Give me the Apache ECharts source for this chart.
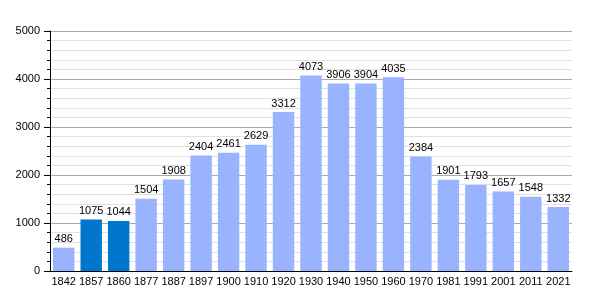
<!DOCTYPE html>
<html>
<head>
<meta charset="utf-8">
<script src="https://cdn.jsdelivr.net/npm/echarts@6/dist/echarts.min.js"></script>
<style>
  html, body { margin: 0; padding: 0; background: #fff; }
  #chart { width: 600px; height: 300px; }
</style>
</head>
<body>
<div id="chart"></div>
<script>
// population by census year
var years = ['1842', '1857', '1860', '1877', '1887', '1897', '1900', '1910', '1920', '1930',
  '1940', '1950', '1960', '1970', '1981', '1991', '2001', '2011', '2021']
var population = [486, 1075, 1044, 1504, 1908, 2404, 2461, 2629, 3312, 4073,
  3906, 3904, 4035, 2384, 1901, 1793, 1657, 1548, 1332]
// years drawn in the darker colour
var highlighted = ['1857', '1860']

var chart = echarts.init(document.getElementById('chart'))

chart.setOption({
  animation: false,
  grid: {
    left: 50,
    right: 28,
    top: 31,
    bottom: 29
  },
  xAxis: {
    type: 'category',
    data: years,
    axisLine: { lineStyle: { color: '#000', width: 1 } },
    axisTick: { show: false },
    axisLabel: {
      color: '#000',
      fontSize: 11,
      fontFamily: 'Liberation Sans',
      margin: 5,
      interval: 0
    }
  },
  yAxis: {
    type: 'value',
    min: 0,
    max: 5000,
    interval: 1000,
    axisLine: { show: true, lineStyle: { color: '#000', width: 1 } },
    axisTick: { show: true, length: 6, lineStyle: { color: '#000' } },
    minorTick: { show: true, splitNumber: 5, length: 3, lineStyle: { color: '#000' } },
    splitLine: { lineStyle: { color: '#aaa', width: 1 } },
    minorSplitLine: { show: true, lineStyle: { color: '#e0e0e0', width: 1 } },
    axisLabel: {
      color: '#000',
      fontSize: 11,
      fontFamily: 'Liberation Sans',
      margin: 10,
      formatter: function (v) { return String(v) }
    }
  },
  series: [
    {
      type: 'bar',
      barCategoryGap: '22%',
      data: population.map(function (v, i) {
        return {
          value: v,
          itemStyle: { color: highlighted.indexOf(years[i]) >= 0 ? '#0077cc' : '#99b3ff' }
        }
      }),
      label: {
        show: true,
        position: 'top',
        distance: 3,
        color: '#000',
        fontSize: 11,
        fontFamily: 'Liberation Sans'
      }
    }
  ]
})
</script>
</body>
</html>
